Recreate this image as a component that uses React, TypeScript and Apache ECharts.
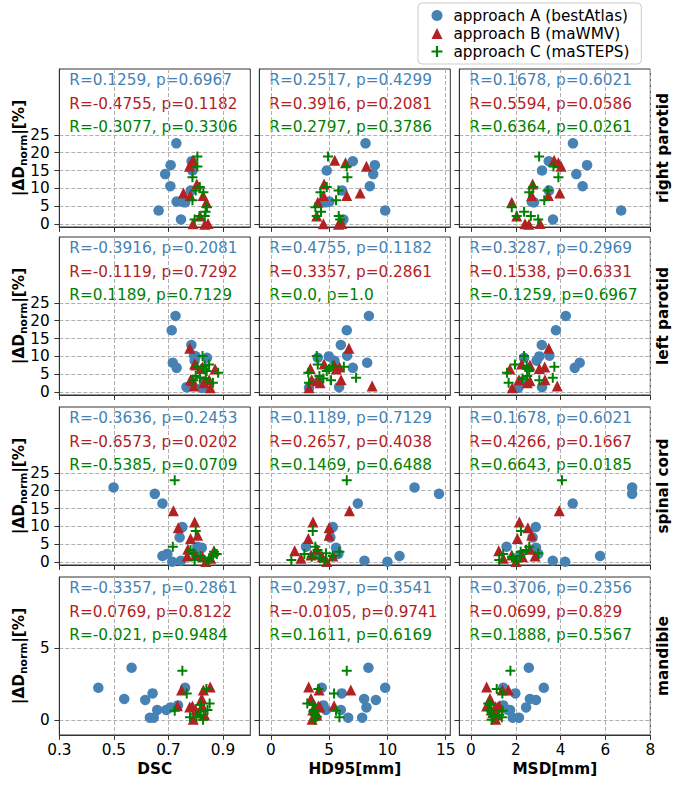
import React, { useEffect, useRef } from "react";
import * as echarts from "echarts";

// ---------- data ----------
const organs = ["right parotid", "left parotid", "spinal cord", "mandible"];
const metrics = ["DSC", "HD95[mm]", "MSD[mm]"];
const approaches = ["approach A (bestAtlas)", "approach B (maWMV)", "approach C (maSTEPS)"];
const colors = ["#4682b4", "#b22222", "#008000"];

// each entry: [|ΔD_norm| (%), DSC, HD95 (mm), MSD (mm)]
const rightParotidA = [
  [22.6, 0.729, 8.12, 4.55], [17.6, 0.785, 7.03, 3.47], [16.5, 0.708, 8.92, 5.18],
  [15.0, 0.788, 4.79, 3.17], [14.0, 0.688, 8.78, 4.7], [10.6, 0.707, 8.49, 4.98],
  [9.4, 0.782, 6.11, 3.48], [6.3, 0.73, 5.02, 2.71], [6.1, 0.761, 4.65, 2.81],
  [6.2, 0.755, 4.9, 2.75], [3.8, 0.664, 9.81, 6.7], [1.3, 0.746, 6.22, 3.66],
];
const rightParotidB = [
  [17.9, 0.79, 5.48, 3.71], [17.2, 0.785, 6.4, 3.9], [16.2, 0.777, 8.2, 4.02],
  [11.2, 0.804, 4.56, 2.75], [8.7, 0.755, 7.66, 3.96], [8.0, 0.78, 4.5, 2.71],
  [8.0, 0.827, 6.51, 3.45], [6.1, 0.839, 4.02, 1.82], [2.3, 0.816, 3.93, 2.04],
  [0.1, 0.79, 4.5, 2.41], [0.0, 0.833, 5.8, 2.59], [0.2, 0.845, 6.08, 3.08],
];
const rightParotidC = [
  [18.9, 0.806, 4.9, 3.04], [16.1, 0.806, 6.51, 3.68], [13.1, 0.788, 6.57, 3.9],
  [10.4, 0.815, 4.79, 2.78], [9.4, 0.8, 5.8, 3.42], [8.9, 0.828, 4.25, 2.6],
  [6.7, 0.788, 5.59, 3.27], [4.7, 0.841, 3.81, 1.82], [3.5, 0.836, 4.3, 2.37],
  [2.3, 0.833, 3.93, 2.04], [2.3, 0.814, 5.82, 2.67], [1.3, 0.796, 5.94, 3.0],
];
const leftParotidA = [
  [21.3, 0.726, 8.41, 4.23], [17.3, 0.712, 6.51, 3.79], [13.2, 0.784, 6.0, 3.16],
  [10.2, 0.794, 6.54, 3.5], [10.0, 0.8, 4.97, 3.05], [9.6, 0.841, 4.02, 2.37],
  [8.8, 0.796, 5.45, 2.93], [8.2, 0.716, 8.26, 4.85], [6.8, 0.73, 7.03, 4.63],
  [3.0, 0.83, 4.1, 2.3], [1.4, 0.766, 5.85, 3.17], [1.2, 0.823, 3.27, 2.11],
];
const leftParotidB = [
  [12.3, 0.778, 6.69, 3.47], [7.9, 0.796, 4.56, 2.26], [7.6, 0.8, 5.42, 2.63],
  [7.0, 0.825, 5.88, 3.29], [6.6, 0.82, 3.38, 3.05], [6.5, 0.871, 5.6, 1.74],
  [3.5, 0.781, 3.5, 2.14], [3.5, 0.849, 6.02, 3.3], [3.2, 0.79, 4.0, 2.63],
  [2.6, 0.83, 4.22, 2.51], [1.7, 0.793, 8.69, 3.85], [1.2, 0.853, 3.27, 1.84],
];
const leftParotidC = [
  [10.1, 0.825, 3.93, 2.37], [7.7, 0.849, 4.02, 1.96], [7.4, 0.833, 5.31, 2.49],
  [7.1, 0.806, 6.26, 3.72], [6.5, 0.833, 5.0, 2.51], [5.9, 0.84, 4.79, 2.6],
  [5.4, 0.882, 3.21, 1.61], [4.5, 0.8, 4.16, 2.51], [4.0, 0.816, 7.31, 3.65],
  [3.8, 0.837, 4.5, 2.3], [3.3, 0.791, 5.16, 3.05], [2.6, 0.863, 3.27, 1.68],
];
const spinalCordA = [
  [20.9, 0.499, 12.33, 7.19], [19.1, 0.65, 14.43, 7.19], [16.4, 0.678, 7.46, 4.54],
  [9.8, 0.751, 5.31, 2.89], [6.9, 0.741, 5.1, 2.75], [4.3, 0.806, 3.01, 1.59],
  [4.0, 0.822, 5.59, 2.9], [2.3, 0.696, 5.79, 3.0], [2.0, 0.8, 4.07, 2.2],
  [1.7, 0.678, 11.04, 5.76], [0.4, 0.746, 8.03, 3.65], [0.1, 0.714, 10.0, 4.2],
];
const spinalCordB = [
  [14.4, 0.718, 6.74, 3.94], [11.2, 0.796, 3.61, 2.16], [9.6, 0.736, 4.99, 2.54],
  [7.5, 0.807, 4.99, 2.71], [6.6, 0.781, 3.21, 2.07], [3.6, 0.771, 3.93, 2.63],
  [3.2, 0.867, 2.04, 1.24], [2.0, 0.8, 3.44, 1.82], [1.7, 0.769, 5.31, 2.86],
  [1.5, 0.825, 4.4, 2.3], [1.1, 0.855, 2.58, 1.44], [0.2, 0.837, 4.79, 2.01],
];
const spinalCordC = [
  [22.9, 0.723, 6.51, 4.06], [8.7, 0.8, 3.59, 2.23], [4.3, 0.716, 3.81, 2.6],
  [3.4, 0.781, 4.0, 2.46], [2.9, 0.867, 5.88, 2.22], [2.5, 0.791, 4.73, 3.0],
  [2.3, 0.877, 2.87, 1.44], [1.7, 0.818, 5.31, 2.19], [1.5, 0.862, 3.5, 1.83],
  [1.1, 0.849, 4.2, 1.9], [0.6, 0.796, 1.75, 1.26], [0.2, 0.843, 4.65, 2.01],
];
const mandibleA = [
  [3.65, 0.565, 8.37, 2.58], [2.25, 0.443, 9.81, 3.25], [2.25, 0.761, 4.36, 1.44],
  [1.86, 0.642, 6.08, 1.98], [1.47, 0.538, 8.0, 2.63], [1.4, 0.615, 9.01, 2.9],
  [1.02, 0.735, 4.5, 1.44], [0.88, 0.708, 8.2, 2.46], [0.7, 0.659, 4.73, 1.74],
  [0.7, 0.692, 6.0, 1.65], [0.16, 0.632, 6.63, 1.86], [0.16, 0.646, 7.83, 2.14],
];
const mandibleB = [
  [2.3, 0.853, 3.24, 0.7], [2.09, 0.748, 4.13, 1.67], [2.09, 0.828, 6.86, 1.4],
  [1.51, 0.822, 3.44, 0.85], [1.0, 0.733, 5.42, 1.26], [0.98, 0.788, 4.07, 0.7],
  [0.93, 0.826, 3.8, 1.1], [0.9, 0.778, 4.2, 1.2], [0.7, 0.8, 3.59, 0.9],
  [0.5, 0.81, 3.9, 0.97], [0.35, 0.833, 3.93, 1.15], [0.05, 0.791, 3.53, 1.1],
];
const mandibleC = [
  [3.44, 0.751, 6.51, 1.76], [2.16, 0.839, 4.07, 1.15], [1.86, 0.767, 5.42, 1.4],
  [1.16, 0.851, 3.12, 0.77], [1.05, 0.816, 3.64, 0.85], [0.7, 0.843, 3.7, 0.8],
  [0.65, 0.723, 5.59, 1.41], [0.6, 0.816, 3.64, 0.9], [0.35, 0.818, 3.79, 1.26],
  [0.23, 0.803, 3.93, 1.0], [0.19, 0.779, 5.88, 1.38], [0.02, 0.827, 3.79, 0.92],
];
const organData = [
  [rightParotidA, rightParotidB, rightParotidC],
  [leftParotidA, leftParotidB, leftParotidC],
  [spinalCordA, spinalCordB, spinalCordC],
  [mandibleA, mandibleB, mandibleC],
];

// correlation statistics: [organ][metric][approach]
const statTexts = [
  [
    ["R=0.1259, p=0.6967", "R=-0.4755, p=0.1182", "R=-0.3077, p=0.3306"],
    ["R=0.2517, p=0.4299", "R=0.3916, p=0.2081", "R=0.2797, p=0.3786"],
    ["R=0.1678, p=0.6021", "R=0.5594, p=0.0586", "R=0.6364, p=0.0261"],
  ],
  [
    ["R=-0.3916, p=0.2081", "R=-0.1119, p=0.7292", "R=0.1189, p=0.7129"],
    ["R=0.4755, p=0.1182", "R=0.3357, p=0.2861", "R=0.0, p=1.0"],
    ["R=0.3287, p=0.2969", "R=0.1538, p=0.6331", "R=-0.1259, p=0.6967"],
  ],
  [
    ["R=-0.3636, p=0.2453", "R=-0.6573, p=0.0202", "R=-0.5385, p=0.0709"],
    ["R=0.1189, p=0.7129", "R=0.2657, p=0.4038", "R=0.1469, p=0.6488"],
    ["R=0.1678, p=0.6021", "R=0.4266, p=0.1667", "R=0.6643, p=0.0185"],
  ],
  [
    ["R=-0.3357, p=0.2861", "R=0.0769, p=0.8122", "R=-0.021, p=0.9484"],
    ["R=0.2937, p=0.3541", "R=-0.0105, p=0.9741", "R=0.1611, p=0.6169"],
    ["R=0.3706, p=0.2356", "R=0.0699, p=0.829", "R=0.1888, p=0.5567"],
  ],
];

const xRanges = [[0.3, 1.0], [-1, 15.4], [-0.52, 8]];
const xTickValues = [[0.3, 0.5, 0.7, 0.9], [0, 5, 10, 15], [0, 2, 4, 6, 8]];
const yRanges = [[-0.8, 43.4], [-0.8, 43.4], [-0.8, 43.4], [-1.05, 10]];
const yTickValues = [
  [0, 5, 10, 15, 20, 25], [0, 5, 10, 15, 20, 25], [0, 5, 10, 15, 20, 25], [0, 5],
];

// ---------- layout ----------
const COL_LEFT = [59.3, 259.3, 459.3];
const ROW_TOP = [69, 237, 407, 577];
const PANEL_W = 191;
const PANEL_H = 158;
const FONT = '"DejaVu Sans", "Noto Sans", sans-serif';
const FS = 15.3;
const PLUS = "path://M4,0H6V4H10V6H6V10H4V6H0V4H4Z";
const symbols = ["circle", "triangle", PLUS];
const symbolSizes = [10.5, 11, 10];

function buildOption() {
  const grids: any[] = [];
  const xAxes: any[] = [];
  const yAxes: any[] = [];
  const series: any[] = [];
  const graphics: any[] = [];

  for (let r = 0; r < 4; r++) {
    for (let c = 0; c < 3; c++) {
      const idx = r * 3 + c;
      grids.push({
        left: COL_LEFT[c],
        top: ROW_TOP[r],
        width: PANEL_W,
        height: PANEL_H,
        show: true,
        borderColor: "#333",
        borderWidth: 1,
        backgroundColor: "transparent",
        containLabel: false,
        outerBoundsMode: "none",
      });
      xAxes.push({
        type: "value",
        gridIndex: idx,
        min: xRanges[c][0],
        max: xRanges[c][1],
        axisLine: { show: true, onZero: false, lineStyle: { color: "#333", width: 1 } },
        axisTick: {
          show: true,
          length: 4.9,
          customValues: xTickValues[c],
          lineStyle: { color: "#333", width: 1 },
        },
        axisLabel: {
          show: r === 3,
          customValues: xTickValues[c],
          formatter: (v: number) => (c === 0 ? v.toFixed(1) : String(v)),
          fontSize: FS,
          fontFamily: FONT,
          color: "#000",
          margin: 7,
        },
        splitLine: {
          show: true,
          lineStyle: { type: [4, 2], color: "#b0b0b0", width: 1 },
        },
      });
      yAxes.push({
        type: "value",
        gridIndex: idx,
        min: yRanges[r][0],
        max: yRanges[r][1],
        axisLine: { show: true, onZero: false, lineStyle: { color: "#333", width: 1 } },
        axisTick: {
          show: true,
          length: 4.9,
          customValues: yTickValues[r],
          lineStyle: { color: "#333", width: 1 },
        },
        axisLabel: {
          show: c === 0,
          customValues: yTickValues[r],
          fontSize: FS,
          fontFamily: FONT,
          color: "#000",
          margin: 9.5,
        },
        splitLine: {
          show: true,
          lineStyle: { type: [4, 2], color: "#b0b0b0", width: 1 },
        },
      });
      for (let k = 0; k < 3; k++) {
        series.push({
          type: "scatter",
          name: approaches[k],
          xAxisIndex: idx,
          yAxisIndex: idx,
          symbol: symbols[k],
          symbolSize: symbolSizes[k],
          itemStyle: { color: colors[k], opacity: 1 },
          emphasis: { disabled: true },
          data: organData[r][k].map((d) => [d[c + 1], d[0]]),
        });
        graphics.push({
          type: "text",
          x: COL_LEFT[c] + 10,
          y: ROW_TOP[r] + 11.3 + 23.35 * k,
          silent: true,
          style: {
            text: statTexts[r][c][k],
            fill: colors[k],
            font: `${FS}px ${FONT}`,
            textAlign: "left",
            textVerticalAlign: "middle",
            verticalAlign: "middle",
          },
        });
      }
    }
    // row label (right side)
    graphics.push({
      type: "text",
      x: 663,
      y: ROW_TOP[r] + PANEL_H / 2,
      rotation: Math.PI / 2,
      silent: true,
      style: {
        text: organs[r],
        fill: "#000",
        font: `bold ${FS}px ${FONT}`,
        textAlign: "center",
        textVerticalAlign: "middle",
        verticalAlign: "middle",
      },
    });
    // y axis title
    graphics.push({
      type: "text",
      x: 19,
      y: ROW_TOP[r] + PANEL_H / 2,
      rotation: Math.PI / 2,
      silent: true,
      style: {
        text: "{a||ΔD}{b|norm}{a||[%]}",
        textAlign: "center",
        textVerticalAlign: "middle",
        verticalAlign: "middle",
        rich: {
          a: { font: `bold ${FS}px ${FONT}`, fill: "#000", lineHeight: 20, verticalAlign: "middle" },
          b: { font: `bold 10.7px ${FONT}`, fill: "#000", lineHeight: 10, verticalAlign: "bottom" },
        },
      },
    });
  }
  // x axis titles
  for (let c = 0; c < 3; c++) {
    graphics.push({
      type: "text",
      x: COL_LEFT[c] + PANEL_W / 2,
      y: 769,
      silent: true,
      style: {
        text: metrics[c],
        fill: "#000",
        font: `bold ${FS}px ${FONT}`,
        textAlign: "center",
        textVerticalAlign: "middle",
        verticalAlign: "middle",
      },
    });
  }

  return {
    animation: false,
    backgroundColor: "#fff",
    grid: grids,
    xAxis: xAxes,
    yAxis: yAxes,
    series,
    graphic: graphics,
    legend: {
      orient: "vertical",
      left: 418,
      top: 3,
      padding: [5, 12, 5, 13.5],
      itemWidth: 11,
      itemHeight: 11,
      itemGap: 3,
      selectedMode: false,
      backgroundColor: "rgba(255,255,255,0.85)",
      borderColor: "#cccccc",
      borderWidth: 1,
      borderRadius: 4,
      textStyle: {
        fontSize: FS,
        fontFamily: FONT,
        color: "#000",
        lineHeight: 14,
        padding: [0, 0, 0, 6],
      },
      data: approaches.map((name, k) => ({ name, icon: symbols[k] })),
    },
  };
}

export default function App() {
  const ref = useRef<HTMLDivElement>(null);
  useEffect(() => {
    if (!ref.current) return;
    const chart = echarts.init(ref.current, undefined, { renderer: "svg" });
    chart.setOption(buildOption() as any);
    return () => chart.dispose();
  }, []);
  return (
    <div
      ref={ref}
      style={{ position: "fixed", left: 0, top: 0, width: 681, height: 789, background: "#fff" }}
    />
  );
}
